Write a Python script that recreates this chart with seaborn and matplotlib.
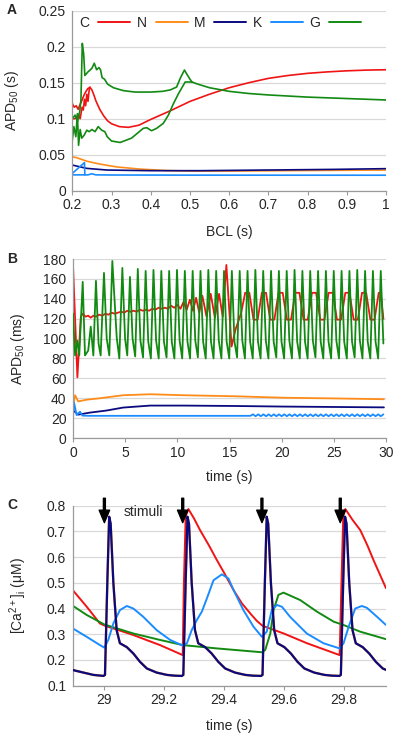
import matplotlib
matplotlib.use("Agg")
import matplotlib.pyplot as plt
from matplotlib.lines import Line2D
import seaborn as sns

# ---------------- data ----------------
NAMES = ["C", "N", "M", "K", "G"]
COLORS = {"C": "#f01414", "N": "#ff8c1a", "M": "#0a0a80", "K": "#1a8cff", "G": "#128a12"}

# Panel A : APD50 (s) vs BCL (s)
A_C_hi = [(0.2, 0.121), (0.205, 0.116), (0.21, 0.118), (0.215, 0.113), (0.22, 0.12), (0.225, 0.126),
          (0.23, 0.133), (0.235, 0.138), (0.24, 0.142), (0.245, 0.1435)]
A_C_lo = [(0.2, 0.1), (0.205, 0.1), (0.21, 0.101), (0.215, 0.106), (0.22, 0.1), (0.225, 0.116),
          (0.228, 0.112), (0.231, 0.127), (0.234, 0.118), (0.237, 0.134), (0.24, 0.124), (0.243, 0.14),
          (0.245, 0.1435)]
A_C_main = [(0.245, 0.1435), (0.25, 0.14), (0.255, 0.133), (0.26, 0.125), (0.27, 0.113), (0.28, 0.104),
            (0.29, 0.097), (0.3, 0.093), (0.32, 0.089), (0.343, 0.088), (0.37, 0.091), (0.4, 0.099),
            (0.45, 0.111), (0.5, 0.124), (0.55, 0.134), (0.6, 0.143), (0.65, 0.15), (0.7, 0.156),
            (0.75, 0.16), (0.8, 0.163), (0.85, 0.165), (0.9, 0.1665), (0.95, 0.1675), (1.0, 0.168)]
A_G_hi = [(0.2, 0.1), (0.207, 0.105), (0.213, 0.096), (0.219, 0.11), (0.222, 0.126), (0.2255, 0.2046),
          (0.229, 0.19), (0.232, 0.16), (0.24, 0.165), (0.25, 0.17), (0.256, 0.177), (0.262, 0.168),
          (0.268, 0.171), (0.272, 0.168), (0.276, 0.157), (0.282, 0.155), (0.29, 0.148), (0.305, 0.143),
          (0.33, 0.139), (0.36, 0.137), (0.4, 0.137), (0.43, 0.138), (0.45, 0.14), (0.466, 0.144),
          (0.476, 0.157), (0.486, 0.1676), (0.493, 0.161), (0.5, 0.155), (0.505, 0.151)]
A_G_lo = [(0.2, 0.07), (0.204, 0.089), (0.209, 0.075), (0.213, 0.107), (0.216, 0.063), (0.22, 0.085),
          (0.224, 0.073), (0.23, 0.077), (0.237, 0.084), (0.243, 0.082), (0.25, 0.085), (0.258, 0.082),
          (0.266, 0.089), (0.275, 0.084), (0.283, 0.082), (0.289, 0.075), (0.3, 0.069), (0.322, 0.067),
          (0.351, 0.073), (0.381, 0.0866), (0.39, 0.0875), (0.402, 0.0833), (0.415, 0.0866),
          (0.432, 0.0935), (0.445, 0.105), (0.458, 0.121), (0.471, 0.135), (0.488, 0.151), (0.505, 0.151)]
A_G_main = [(0.505, 0.151), (0.52, 0.148), (0.55, 0.143), (0.6, 0.138), (0.65, 0.135), (0.7, 0.133),
            (0.8, 0.13), (0.9, 0.128), (1.0, 0.126)]
A_N = [(0.2, 0.047), (0.21, 0.046), (0.237, 0.041), (0.27, 0.037), (0.313, 0.033), (0.373, 0.030),
       (0.441, 0.028), (0.5, 0.0273), (0.611, 0.0273), (0.781, 0.028), (1.0, 0.0287)]
A_M = [(0.2, 0.0356), (0.237, 0.031), (0.288, 0.0287), (0.399, 0.0278), (0.526, 0.0278),
       (0.696, 0.0287), (0.867, 0.0296), (1.0, 0.0306)]
A_K_hi = [(0.2, 0.024), (0.231, 0.039), (0.232, 0.022)]
A_K_lo = [(0.2, 0.022), (0.232, 0.022), (0.24, 0.022), (0.25, 0.0235), (0.26, 0.022), (0.3, 0.0218),
          (0.5, 0.0216), (1.0, 0.0215)]

# Panel B : APD50 (ms) vs time (s)
B_C = [(0, 174), (0.42, 61), (0.75, 122), (0.95, 125), (1.2, 122), (1.45, 123), (1.7, 121), (1.95, 123),
       (2.2, 122), (2.5, 124), (2.8, 123), (3.1, 125), (3.4, 124), (3.7, 126), (4.0, 125), (4.3, 126),
       (4.6, 127), (4.9, 126), (5.2, 128), (5.5, 127), (5.8, 128), (6.1, 127), (6.4, 129), (6.7, 128),
       (7.0, 129), (7.3, 128), (7.6, 130), (7.9, 129), (8.2, 131), (8.5, 130), (8.8, 131), (9.1, 130),
       (9.4, 133), (9.7, 131), (10.0, 134), (10.3, 130), (10.6, 137), (10.9, 129), (11.2, 139),
       (11.5, 128), (11.8, 141), (12.1, 126), (12.4, 143), (12.8, 122), (13.2, 145), (13.6, 121),
       (14.0, 145), (14.35, 122), (14.7, 174), (15.2, 92), (15.6, 110), (16.1, 125), (16.5, 146),
       (16.9, 146), (17.3, 119), (17.7, 119), (18.1, 146), (18.5, 146), (18.9, 119), (19.3, 119),
       (19.7, 146), (20.1, 146), (20.5, 119), (20.9, 119), (21.3, 146), (21.7, 146), (22.1, 119),
       (22.5, 119), (22.9, 146), (23.3, 146), (23.7, 119), (24.1, 119), (24.5, 146), (24.9, 146),
       (25.3, 119), (25.7, 119), (26.1, 146), (26.5, 146), (26.9, 119), (27.3, 119), (27.7, 146),
       (28.1, 146), (28.5, 119), (28.9, 119), (29.3, 146), (29.5, 146), (29.75, 120)]
B_G_early = [(0.0, 125), (0.2, 83), (0.42, 98), (0.6, 83), (0.93, 157), (1.15, 83), (1.46, 88),
             (1.7, 112), (1.95, 83), (2.2, 158), (2.45, 95), (2.65, 83), (2.97, 166), (3.23, 100),
             (3.48, 83), (3.77, 178), (4.19, 101), (4.44, 80), (4.73, 171), (4.99, 100), (5.2, 83)]
B_G_beat_t0 = 5.46      # first beat of the steady 3-beat pattern
B_G_beat_dt = 0.2504    # beat interval
B_G_beats = [162, 100, 82, 170, 98, 81, 168, 97, 80, 169, 98, 80, 168, 97, 81, 168, 97, 80,
             169, 98, 80, 168, 97, 80, 168, 98, 81, 168, 97, 80, 169, 97, 80, 168, 98, 80,
             168, 97, 80, 168, 97, 81, 168, 98, 80, 168, 97, 80, 169, 97, 80, 168, 98, 80,
             168, 97, 81, 168, 97, 80, 168, 98, 80, 169, 97, 80, 168, 97, 80, 168, 98, 81,
             168, 97, 80, 168, 97, 80, 168, 98, 80, 168, 97, 80, 168, 97, 81, 169, 98, 80,
             168, 97, 80, 168, 97, 80, 168, 95]
B_N = [(0, 31.5), (0.2, 43), (0.5, 36.8), (1.3, 38.5), (2.6, 40), (4.8, 43), (7.4, 44), (10.6, 43),
       (15.4, 42), (20.2, 40.5), (25.0, 39.8), (29.8, 39)]
B_M = [(0, 28), (0.5, 23.5), (1.6, 25.5), (3.2, 27.6), (4.8, 30.6), (7.4, 32.6), (10.6, 32.6),
       (15.4, 32.2), (20.2, 31.6), (29.8, 30.8)]
B_K = [(0, 21.5), (0.1, 35.6), (0.35, 23), (0.67, 26.5), (0.9, 22.5), (1.5, 22.3), (17.0, 22.3)]
B_K_wave_t0 = 17.25
B_K_wave_dt = 0.25
B_K_wave = [23.8, 21.9, 23.8, 21.9, 23.8, 21.9, 23.8, 21.9, 23.8, 21.9, 23.8, 21.9, 23.8, 21.9,
            23.8, 21.9, 23.8, 21.9, 23.8, 21.9, 23.8, 21.9, 23.8, 21.9, 23.8, 21.9, 23.8, 21.9,
            23.8, 21.9, 23.8, 21.9, 23.8, 21.9, 23.8, 21.9, 23.8, 21.9, 23.8, 21.9, 23.8, 21.9,
            23.8, 21.9, 23.8, 21.9, 23.8, 21.9, 23.8, 21.9, 23.8]

# Panel C : [Ca2+]i (uM) vs time (s)
C_STIM = [29.0, 29.262, 29.527, 29.789]
C_M = [(28.894, 0.161), (28.93, 0.151), (28.963, 0.142), (28.997, 0.138),
       (29.002, 0.142), (29.010, 0.51), (29.016, 0.757), (29.021, 0.73), (29.030, 0.50),
       (29.041, 0.316), (29.052, 0.265), (29.075, 0.25), (29.097, 0.225), (29.119, 0.193),
       (29.142, 0.167), (29.175, 0.151), (29.209, 0.142), (29.235, 0.139), (29.259, 0.138),
       (29.264, 0.142), (29.272, 0.51), (29.278, 0.757), (29.283, 0.73), (29.292, 0.50),
       (29.303, 0.316), (29.314, 0.265), (29.337, 0.25), (29.359, 0.225), (29.381, 0.193),
       (29.404, 0.167), (29.437, 0.151), (29.471, 0.142), (29.497, 0.139), (29.524, 0.138),
       (29.529, 0.142), (29.537, 0.51), (29.543, 0.757), (29.548, 0.73), (29.557, 0.50),
       (29.568, 0.316), (29.579, 0.265), (29.602, 0.25), (29.624, 0.225), (29.646, 0.193),
       (29.669, 0.167), (29.702, 0.151), (29.736, 0.142), (29.762, 0.139), (29.786, 0.138),
       (29.791, 0.142), (29.799, 0.51), (29.805, 0.757), (29.810, 0.73), (29.819, 0.50),
       (29.830, 0.316), (29.841, 0.265), (29.864, 0.25), (29.886, 0.225), (29.908, 0.193),
       (29.931, 0.167), (29.964, 0.151)]
C_N = C_M  # N trace lies under M
C_C = [(28.894, 0.472), (28.941, 0.407), (28.985, 0.342), (29.002, 0.333), (29.05, 0.315),
       (29.097, 0.297), (29.14, 0.278), (29.186, 0.258), (29.262, 0.219), (29.266, 0.5),
       (29.272, 0.76), (29.281, 0.787), (29.30, 0.75), (29.32, 0.705), (29.35, 0.645),
       (29.376, 0.589), (29.40, 0.54), (29.432, 0.472), (29.46, 0.42), (29.488, 0.381),
       (29.51, 0.352), (29.529, 0.333), (29.6, 0.303), (29.678, 0.265), (29.787, 0.219),
       (29.793, 0.5), (29.799, 0.76), (29.806, 0.787), (29.83, 0.745), (29.856, 0.705),
       (29.88, 0.645), (29.9, 0.589), (29.942, 0.479)]
C_K = [(28.894, 0.323), (28.941, 0.29), (28.985, 0.258), (29.0, 0.248), (29.013, 0.278),
       (29.03, 0.342), (29.052, 0.394), (29.075, 0.41), (29.097, 0.40), (29.13, 0.368),
       (29.175, 0.316), (29.22, 0.278), (29.262, 0.256), (29.276, 0.265), (29.292, 0.316),
       (29.309, 0.355), (29.326, 0.388), (29.343, 0.44), (29.365, 0.51), (29.393, 0.533),
       (29.415, 0.517), (29.432, 0.472), (29.465, 0.394), (29.499, 0.329), (29.527, 0.29),
       (29.543, 0.31), (29.56, 0.394), (29.577, 0.414), (29.594, 0.407), (29.621, 0.368),
       (29.677, 0.303), (29.733, 0.265), (29.787, 0.245), (29.8, 0.265), (29.817, 0.329),
       (29.839, 0.4), (29.861, 0.41), (29.878, 0.403), (29.912, 0.368), (29.942, 0.336)]
C_G = [(28.894, 0.411), (28.941, 0.375), (29.0, 0.338), (29.097, 0.303), (29.186, 0.278),
       (29.262, 0.258), (29.376, 0.245), (29.527, 0.23), (29.538, 0.239), (29.555, 0.303),
       (29.566, 0.394), (29.582, 0.453), (29.599, 0.462), (29.655, 0.433), (29.711, 0.388),
       (29.767, 0.349), (29.8, 0.336), (29.856, 0.31), (29.942, 0.281)]

A_XTICKS = [0.2, 0.3, 0.4, 0.5, 0.6, 0.7, 0.8, 0.9, 1.0]
A_XLABELS = ["0.2", "0.3", "0.4", "0.5", "0.6", "0.7", "0.8", "0.9", "1"]
A_YTICKS = [0, 0.05, 0.1, 0.15, 0.2, 0.25]
A_YLABELS = ["0", "0.05", "0.1", "0.15", "0.2", "0.25"]
B_XTICKS = [0, 5, 10, 15, 20, 25, 30]
B_YTICKS = [0, 20, 40, 60, 80, 100, 120, 140, 160, 180]
C_XTICKS = [29, 29.2, 29.4, 29.6, 29.8]
C_XLABELS = ["29", "29.2", "29.4", "29.6", "29.8"]
C_YTICKS = [0.1, 0.2, 0.3, 0.4, 0.5, 0.6, 0.7, 0.8]
C_YLABELS = ["0.1", "0.2", "0.3", "0.4", "0.5", "0.6", "0.7", "0.8"]

# ---------------- style ----------------
sns.set_style("white")
plt.rcParams["font.family"] = ["Liberation Sans", "DejaVu Sans"]
plt.rcParams["mathtext.fontset"] = "custom"
plt.rcParams["mathtext.rm"] = "Liberation Sans"
plt.rcParams["mathtext.it"] = "Liberation Sans:italic"
plt.rcParams["font.size"] = 10

FS = 10
GRID = "#d9d9d9"
SPINE = "#9a9a9a"

fig = plt.figure(figsize=(3.97, 7.35), dpi=100)
W, H = 397.0, 735.0


def add_ax(left, top, right, bottom):
    return fig.add_axes([left / W, 1 - bottom / H, (right - left) / W, (bottom - top) / H])


def line(ax, pts, color, lw, z=2):
    xs = [p[0] for p in pts]
    ys = [p[1] for p in pts]
    sns.lineplot(x=xs, y=ys, ax=ax, color=color, lw=lw, sort=False, estimator=None,
                 legend=False, zorder=z)


def style(ax):
    ax.set_axisbelow(True)
    ax.yaxis.grid(True, color=GRID, lw=0.9)
    ax.xaxis.grid(False)
    for s in ["top", "right"]:
        ax.spines[s].set_visible(False)
    for s in ["left", "bottom"]:
        ax.spines[s].set_color(SPINE)
        ax.spines[s].set_linewidth(0.9)
    ax.tick_params(axis="x", length=3, width=0.8, color=SPINE, pad=2.5, labelsize=FS,
                   bottom=True, direction="out")
    ax.tick_params(axis="y", length=0, pad=4.7, labelsize=FS, left=True)


# ---- Panel A ----
axA = add_ax(72.3, 10.7, 386.0, 190.7)
style(axA)
line(axA, A_N, COLORS["N"], 1.2)
line(axA, A_M, COLORS["M"], 1.2)
line(axA, A_K_lo, COLORS["K"], 1.2)
line(axA, A_K_hi, COLORS["K"], 1.2)
line(axA, A_C_hi, COLORS["C"], 1.2)
line(axA, A_C_lo, COLORS["C"], 1.2)
line(axA, A_C_main, COLORS["C"], 1.2)
line(axA, A_G_hi, COLORS["G"], 1.2)
line(axA, A_G_lo, COLORS["G"], 1.2)
line(axA, A_G_main, COLORS["G"], 1.2)
axA.set_xlim(0.2, 1.0)
axA.set_ylim(0, 0.25)
axA.set_xticks(A_XTICKS, A_XLABELS)
axA.set_yticks(A_YTICKS, A_YLABELS)
axA.set_xlabel("BCL (s)", fontsize=FS)
axA.set_ylabel("APD$_{50}$ (s)", fontsize=FS)
axA.xaxis.set_label_coords(0.5, -0.19)
axA.yaxis.set_label_coords(-0.162, 0.5)
handles = [Line2D([], [], color=COLORS[n], lw=1.4) for n in NAMES]
axA.legend(handles, NAMES, loc="upper left", bbox_to_anchor=(0.005, 1.0), ncol=5, frameon=False,
           markerfirst=False, handlelength=2.3, handletextpad=0.65, columnspacing=0.45,
           borderaxespad=0.0, fontsize=FS)

# ---- Panel B ----
axB = add_ax(73.0, 259.0, 386.0, 438.0)
style(axB)
line(axB, B_N, COLORS["N"], 1.3)
line(axB, B_M, COLORS["M"], 1.3)
bk = B_K + [(B_K_wave_t0 + i * B_K_wave_dt, v) for i, v in enumerate(B_K_wave)]
line(axB, bk, COLORS["K"], 1.3)
line(axB, B_C, COLORS["C"], 1.3)
bg = B_G_early + [(B_G_beat_t0 + i * B_G_beat_dt, v) for i, v in enumerate(B_G_beats)]
line(axB, bg, COLORS["G"], 1.3, z=3)
axB.set_xlim(0, 30)
axB.set_ylim(0, 180)
axB.set_xticks(B_XTICKS, [str(v) for v in B_XTICKS])
axB.set_yticks(B_YTICKS, [str(v) for v in B_YTICKS])
axB.set_xlabel("time (s)", fontsize=FS)
axB.set_ylabel("APD$_{50}$ (ms)", fontsize=FS)
axB.xaxis.set_label_coords(0.5, -0.18)
axB.yaxis.set_label_coords(-0.147, 0.5)

# ---- Panel C ----
axC = add_ax(72.7, 505.7, 386.0, 685.7)
style(axC)
line(axC, C_N, COLORS["N"], 1.7)
line(axC, C_C, COLORS["C"], 1.4)
line(axC, C_G, COLORS["G"], 1.4)
line(axC, C_K, COLORS["K"], 1.4)
line(axC, C_M, COLORS["M"], 1.6, z=4)
axC.set_xlim(28.894, 29.942)
axC.set_ylim(0.1, 0.8)
axC.set_xticks(C_XTICKS, C_XLABELS)
axC.set_yticks(C_YTICKS, C_YLABELS)
axC.set_xlabel("time (s)", fontsize=FS)
axC.set_ylabel("[Ca$^{2+}$]$_\\mathrm{i}$ (\u03bcM)", fontsize=FS)
axC.xaxis.set_label_coords(0.5, -0.185)
axC.yaxis.set_label_coords(-0.141, 0.5)
for s in C_STIM:
    axC.annotate("", xy=(s, 0.734), xytext=(s, 0.829), annotation_clip=False,
                 arrowprops=dict(facecolor="black", edgecolor="black", width=1.4,
                                 headwidth=7.5, headlength=9, shrink=0.0), zorder=6)
axC.text(29.064, 0.774, "stimuli", va="center", ha="left", fontsize=FS)

# panel letters
for lab, y in [("A", 10), ("B", 259), ("C", 505)]:
    fig.text(12 / W, 1 - y / H, lab, ha="center", va="center", fontsize=FS, fontweight="bold")

fig.savefig("out.png", dpi=100)
